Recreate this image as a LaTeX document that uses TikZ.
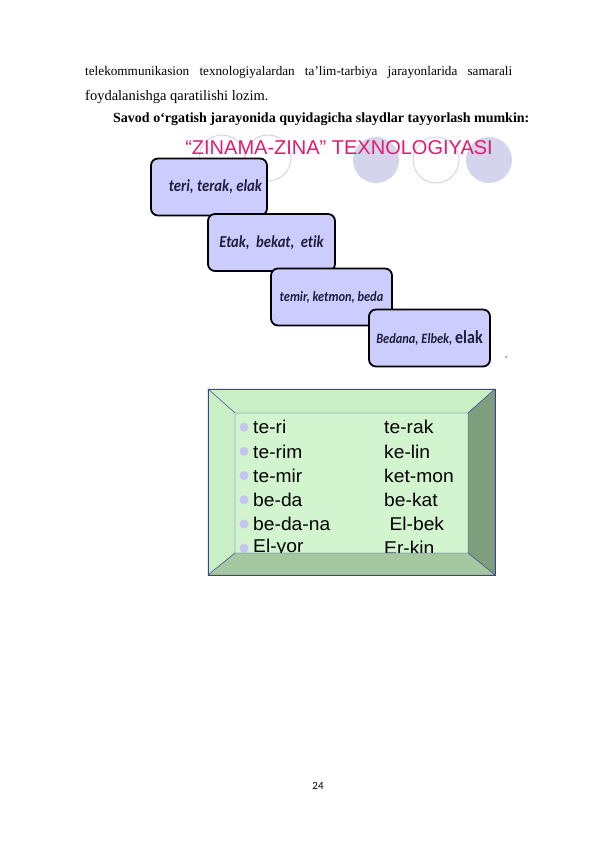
\documentclass[tikz,border=0pt]{standalone}
\usepackage{fontspec}
\setmainfont{Liberation Serif}
\newfontfamily\arialf{Liberation Sans}
\newfontfamily\calib[Ligatures=NoCommon]{Carlito}
\usepackage{graphicx}
\usepackage{xcolor}
\usetikzlibrary{positioning}
\definecolor{lav}{RGB}{204,204,255}
\definecolor{wordtxt}{RGB}{30,30,60}
\definecolor{pinkt}{RGB}{230,25,110}
\definecolor{ring}{RGB}{212,212,236}
\definecolor{face}{RGB}{210,244,206}
\definecolor{bevtop}{RGB}{200,240,196}
\definecolor{bevright}{RGB}{126,158,126}
\definecolor{bevbot}{RGB}{166,200,160}
\definecolor{edge}{RGB}{64,64,160}
\definecolor{dotc}{RGB}{196,196,240}
\newcommand{\wider}[2][1.04]{\scalebox{#1}[1]{#2}}
\newcommand{\taller}[1]{\scalebox{1}[1.15]{#1}}
\newcommand{\wsize}[1]{\fontsize{#1}{#1}\selectfont}

\begin{document}
\begin{tikzpicture}[x=1pt,y=-1pt, every node/.style={inner sep=0pt}, stairbox/.style={draw=black,line width=1.8pt,rounded corners=7pt,fill=lav,minimum width=#1,minimum height=57pt,font=\calib\bfseries\itshape,text=wordtxt}, item/.style={anchor=west,font=\arialf\fontsize{18.5}{20}\selectfont}, blob/.style={circle,minimum size=46pt}]
\useasboundingbox (0,0) rectangle (596,842);
% text of the page
\node[anchor=base west] (line1) at (85,76) {\fontsize{13.2}{17}\selectfont\makebox[427pt][s]{telekommunikasion texnologiyalardan ta’lim-tarbiya jarayonlarida samarali}};
\node[anchor=base west] (line2) at (85,101) {\fontsize{14.5}{17}\selectfont foydalanishga qaratilishi lozim.};
\node[anchor=base west] (line3) at (113,123) {\fontsize{14}{17}\selectfont\bfseries Savod o‘rgatish jarayonida quyidagicha slaydlar tayyorlash mumkin:};
% first slide
\node[blob,draw=ring,line width=1pt] (c1) at (222,158) {};
\node[blob,draw=ring,line width=1pt] (c2) at (268,158) {};
\node[blob,fill=ring] (c3) at (376,160) {};
\node[blob,draw=ring,line width=1pt] (c4) at (436,160) {};
\node[blob,fill=ring] (c5) at (489,160) {};
\node[font=\arialf\fontsize{20}{24}\selectfont,text=pinkt] (title) at (339,148) {“ZINAMA-ZINA” TEXNOLOGIYASI};
\node[stairbox=116pt,text width=106pt,align=right] (s1) at (209,187) {\taller{\wsize{14.7}teri, terak, elak}};
\node[stairbox=127pt] (s2) at (271.5,242.5) {\taller{\wsize{14.6}Etak,\ \ bekat,\ \ etik}};
\node[stairbox=121pt] (s3) at (331.5,297) {\taller{\wsize{12.4}temir, ketmon, beda}};
\node[stairbox=121pt] (s4) at (429.5,338) {\taller{\wsize{12.4}Bedana, Elbek, {\upshape\wsize{16}elak}}};
\node[circle,fill=gray!60,minimum size=3pt] (dot) at (506,357) {};
% second slide
\coordinate (o1) at (208,389); \coordinate (o2) at (495,389);
\coordinate (o3) at (495,575); \coordinate (o4) at (208,575);
\coordinate (i1) at (235,413); \coordinate (i2) at (468,413);
\coordinate (i3) at (468,553); \coordinate (i4) at (235,553);
\fill[face] (i1) rectangle (i3);
\node[fill=white,minimum width=132pt,minimum height=13pt] (head) at (336,401.5) {};
\node[anchor=west,text=red!85!black,font=\bfseries\fontsize{11.5}{12}\selectfont] (htext) at (280,401.5) {\wider[1.1]{•\ \ Sanab o‘rganamiz}};
\foreach \l/\r [count=\i] in {te-ri/te-rak,te-rim/ke-lin,te-mir/ket-mon,be-da/be-kat,be-da-na/\ El-bek,El-yor/Er-kin}{
  \node[circle,fill=dotc,minimum size=9pt] (b\i) at (244,403+24.2*\i) {};
  \node[item] (l\i) at (253,403+24.2*\i) {\wider{\l}};
  \node[item] (r\i) at (384,403+24.2*\i) {\wider{\r}};
}
\filldraw[draw=edge,fill=bevtop] (o1) -- (o2) -- (i2) -- (i1) -- cycle;
\filldraw[draw=edge,fill=bevtop] (o1) -- (i1) -- (i4) -- (o4) -- cycle;
\filldraw[draw=edge,fill=bevright] (o2) -- (o3) -- (i3) -- (i2) -- cycle;
\filldraw[draw=edge,fill=bevbot] (o4) -- (i4) -- (i3) -- (o3) -- cycle;
\draw[edge] (o1) rectangle (o3);
\node[font=\calib\fontsize{11}{13}\selectfont] (page) at (318,786) {24};
\end{tikzpicture}
\end{document}
